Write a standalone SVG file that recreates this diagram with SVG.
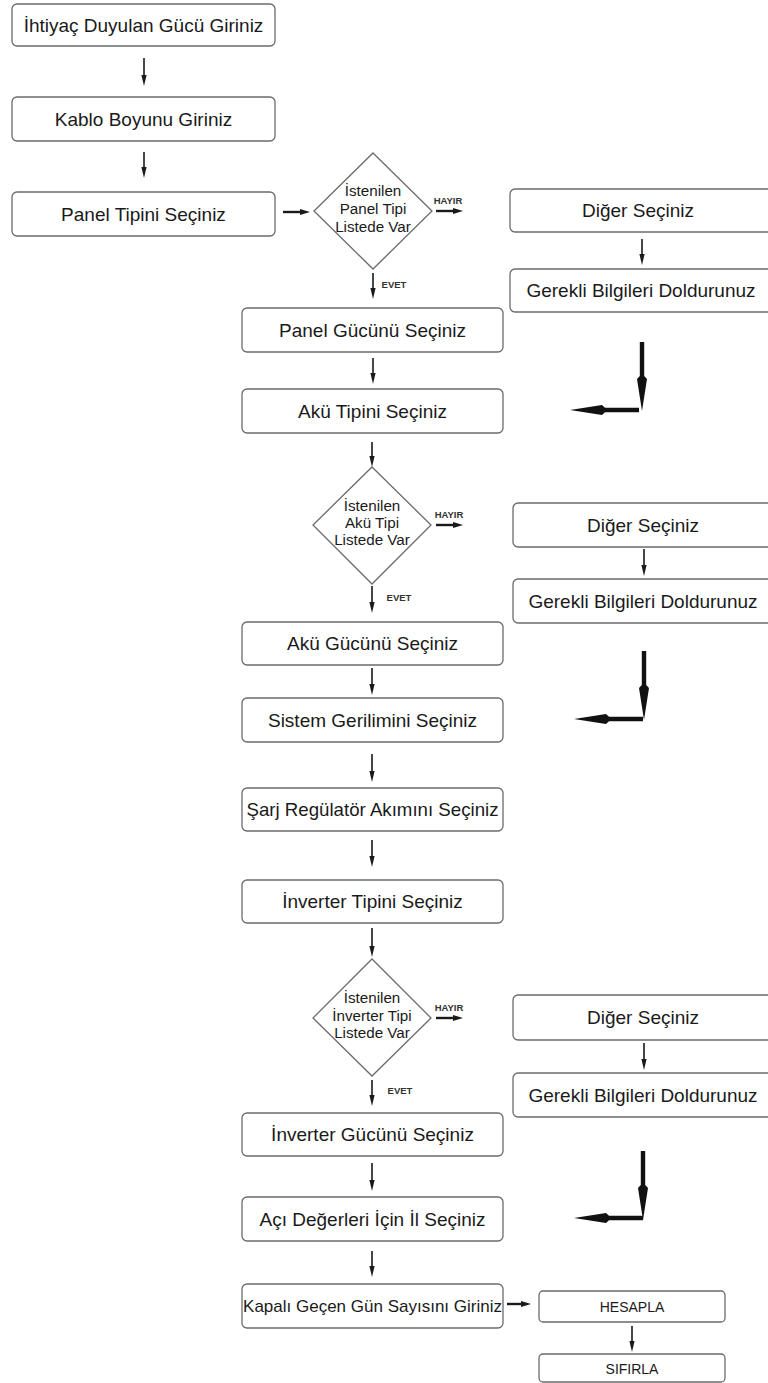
<svg xmlns="http://www.w3.org/2000/svg" xmlns:xlink="http://www.w3.org/1999/xlink" width="768" height="1383" viewBox="0 0 768 1383">
<style>
.box{fill:#fff;stroke:#6b6b6b;stroke-width:1.3}
.dia{fill:#fff;stroke:#6b6b6b;stroke-width:1.3}
text{font-family:"Liberation Sans",Arial,Helvetica,sans-serif;fill:#1a1a1a}
.t{font-size:19px;text-anchor:middle}
.k{font-size:17px;text-anchor:middle}
.b{font-size:14px;text-anchor:middle}
.dt{font-size:15.2px;text-anchor:middle}
.s{font-size:9.5px;text-anchor:middle;font-weight:bold;fill:#333}
.v line{stroke:#1a1a1a;stroke-width:1.6;marker-end:url(#ah)}
.v line.h{stroke-width:2.4;marker-end:url(#ahh)}
.thick{fill:#111}
</style>
<defs>
<marker id="ah" markerUnits="userSpaceOnUse" markerWidth="11" markerHeight="6" refX="3" refY="3" orient="auto"><path d="M0,0.4 L11,3 L0,5.6 Z" fill="#1a1a1a"/></marker>
<marker id="ahh" markerUnits="userSpaceOnUse" markerWidth="10" markerHeight="7" refX="3" refY="3.5" orient="auto"><path d="M0,0.5 L10,3.5 L0,6.5 Z" fill="#1a1a1a"/></marker>
<path id="thick" d="M-2.2,-69 L2.2,-69 L2.2,-35 L5,-32 L0,0 L-5,-32 L-2.2,-35 Z"/>
</defs>
<rect width="768" height="1383" fill="#fff"/>

<g id="n1"><rect class="box" x="12" y="4" width="263" height="42" rx="5"/><text class="t" x="143.5" y="31.5">İhtiyaç Duyulan Gücü Giriniz</text></g>
<g id="n2"><rect class="box" x="12" y="97" width="263" height="44" rx="5"/><text class="t" x="143.5" y="125.5">Kablo Boyunu Giriniz</text></g>
<g id="n3"><rect class="box" x="12" y="192" width="263" height="44" rx="5"/><text class="t" x="143.5" y="220.5">Panel Tipini Seçiniz</text></g>

<g id="d1"><polygon class="dia" points="373,153 432,211 373,269 314,211"/><text class="dt" x="373" y="195.5">İstenilen</text><text class="dt" x="373" y="213.5">Panel Tipi</text><text class="dt" x="373" y="231.5">Listede Var</text></g>
<g id="r1a"><rect class="box" x="510" y="189" width="266" height="43" rx="5"/><text class="t" x="638" y="217">Diğer Seçiniz</text></g>
<g id="r1b"><rect class="box" x="510" y="269" width="266" height="43" rx="5"/><text class="t" x="641" y="297">Gerekli Bilgileri Doldurunuz</text></g>

<g id="n4"><rect class="box" x="242" y="308" width="261" height="44" rx="5"/><text class="t" x="372.5" y="336.5">Panel Gücünü Seçiniz</text></g>
<g id="n5"><rect class="box" x="242" y="389" width="261" height="44" rx="5"/><text class="t" x="372.5" y="417.5">Akü Tipini Seçiniz</text></g>

<g id="d2"><polygon class="dia" points="372,467 431,525 372,584 313,525"/><text class="dt" x="372" y="510.5">İstenilen</text><text class="dt" x="372" y="527.5">Akü Tipi</text><text class="dt" x="372" y="544.5">Listede Var</text></g>
<g id="r2a"><rect class="box" x="513" y="503" width="263" height="44" rx="5"/><text class="t" x="643" y="531.5">Diğer Seçiniz</text></g>
<g id="r2b"><rect class="box" x="513" y="579" width="263" height="44" rx="5"/><text class="t" x="643" y="607.5">Gerekli Bilgileri Doldurunuz</text></g>

<g id="n6"><rect class="box" x="242" y="622" width="261" height="43" rx="5"/><text class="t" x="372.5" y="650">Akü Gücünü Seçiniz</text></g>
<g id="n7"><rect class="box" x="242" y="698" width="261" height="44" rx="5"/><text class="t" x="372.5" y="726.5">Sistem Gerilimini Seçiniz</text></g>
<g id="n8"><rect class="box" x="242" y="788" width="261" height="43" rx="5"/><text class="t" x="372.5" y="816" textLength="252" lengthAdjust="spacingAndGlyphs">Şarj Regülatör Akımını Seçiniz</text></g>
<g id="n9"><rect class="box" x="242" y="880" width="261" height="43" rx="5"/><text class="t" x="372.5" y="908">İnverter Tipini Seçiniz</text></g>

<g id="d3"><polygon class="dia" points="372,959 431,1018 372,1076 313,1018"/><text class="dt" x="372" y="1002.5">İstenilen</text><text class="dt" x="372" y="1020.5">İnverter Tipi</text><text class="dt" x="372" y="1037.5">Listede Var</text></g>
<g id="r3a"><rect class="box" x="513" y="995" width="263" height="45" rx="5"/><text class="t" x="643" y="1024">Diğer Seçiniz</text></g>
<g id="r3b"><rect class="box" x="513" y="1073" width="263" height="44" rx="5"/><text class="t" x="643" y="1101.5">Gerekli Bilgileri Doldurunuz</text></g>

<g id="n10"><rect class="box" x="242" y="1113" width="261" height="43" rx="5"/><text class="t" x="372.5" y="1141">İnverter Gücünü Seçiniz</text></g>
<g id="n11"><rect class="box" x="242" y="1197" width="261" height="44" rx="5"/><text class="t" x="372.5" y="1225.5">Açı Değerleri İçin İl Seçiniz</text></g>
<g id="n12"><rect class="box" x="242" y="1284" width="261" height="44" rx="5"/><text class="k" x="372.5" y="1312">Kapalı Geçen Gün Sayısını Giriniz</text></g>
<g id="n13"><rect class="box" x="539" y="1291" width="186" height="31" rx="4"/><text class="b" x="632" y="1312">HESAPLA</text></g>
<g id="n14"><rect class="box" x="539" y="1354" width="186" height="28" rx="4"/><text class="b" x="632" y="1373.5">SIFIRLA</text></g>

<g id="connectors" class="v">
<line x1="144" y1="58" x2="144" y2="78"/>
<line x1="144" y1="152" x2="144" y2="170"/>
<line class="h" x1="283" y1="212" x2="303" y2="212"/>
<line class="h" x1="436" y1="211" x2="456" y2="211"/>
<line x1="373" y1="273" x2="373" y2="291"/>
<line x1="642" y1="239" x2="642" y2="257"/>
<line x1="373" y1="358" x2="373" y2="376"/>
<line x1="372" y1="442" x2="372" y2="459"/>
<line class="h" x1="436" y1="525" x2="456" y2="525"/>
<line x1="372" y1="586" x2="372" y2="605"/>
<line x1="644" y1="549" x2="644" y2="568"/>
<line x1="372" y1="668" x2="372" y2="687"/>
<line x1="372" y1="754" x2="372" y2="774"/>
<line x1="372" y1="840" x2="372" y2="859"/>
<line x1="372" y1="928" x2="372" y2="949"/>
<line class="h" x1="436" y1="1018" x2="456" y2="1018"/>
<line x1="372" y1="1080" x2="372" y2="1098"/>
<line x1="644" y1="1043" x2="644" y2="1062"/>
<line x1="372" y1="1163" x2="372" y2="1183"/>
<line x1="372" y1="1251" x2="372" y2="1269"/>
<line class="h" x1="507" y1="1304" x2="524" y2="1304"/>
<line x1="632" y1="1326" x2="632" y2="1344"/>
<use class="thick" xlink:href="#thick" transform="translate(642,411)"/>
<use class="thick" xlink:href="#thick" transform="translate(570,410) rotate(90)"/>
<use class="thick" xlink:href="#thick" transform="translate(644,720)"/>
<use class="thick" xlink:href="#thick" transform="translate(574,719) rotate(90)"/>
<use class="thick" xlink:href="#thick" transform="translate(643,1220)"/>
<use class="thick" xlink:href="#thick" transform="translate(574,1218) rotate(90)"/>
<text class="s" x="448" y="203.5">HAYIR</text>
<text class="s" x="449" y="517.5">HAYIR</text>
<text class="s" x="449" y="1010.5">HAYIR</text>
<text class="s" x="394" y="287.5">EVET</text>
<text class="s" x="399" y="601">EVET</text>
<text class="s" x="400" y="1093.5">EVET</text>
</g>
</svg>
